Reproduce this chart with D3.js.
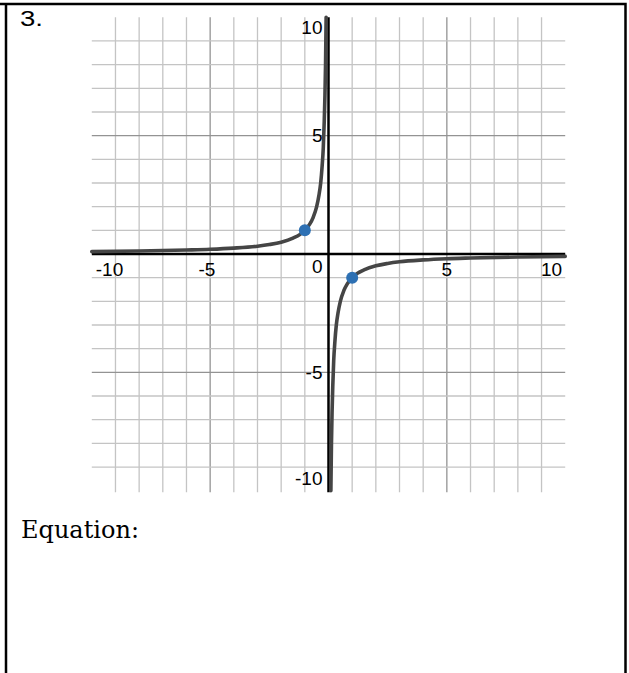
<!DOCTYPE html>
<html>
<head>
<meta charset="utf-8">
<script src="https://cdn.jsdelivr.net/npm/d3@7"></script>
<style>
  body { margin: 0; background: #fff; }
  svg { display: block; }
</style>
</head>
<body>
<div id="chart"></div>
<script>
const width = 629;
const height = 673;

// values
const xTicks = [-10, -5, 5, 10];
const yTicks = [10, 5, -5, -10];
const majorLines = [-5, 5];
// left branch, x < 0
const leftBranch = [
  [-10, 0.1], [-8, 0.125], [-6, 0.17], [-5, 0.2], [-4, 0.25], [-3, 0.33],
  [-2.5, 0.4], [-2, 0.5], [-1.5, 0.67], [-1.2, 0.83], [-1, 1], [-0.8, 1.25],
  [-0.65, 1.54], [-0.5, 2], [-0.4, 2.5], [-0.33, 3], [-0.27, 3.7],
  [-0.22, 4.5], [-0.18, 5.6], [-0.15, 6.7], [-0.125, 8], [-0.1, 10]
];
// right branch, x > 0
const rightBranch = [
  [0.1, -10], [0.125, -8], [0.15, -6.7], [0.18, -5.6], [0.22, -4.5],
  [0.27, -3.7], [0.33, -3], [0.4, -2.5], [0.5, -2], [0.65, -1.54],
  [0.8, -1.25], [1, -1], [1.2, -0.83], [1.5, -0.67], [2, -0.5], [2.5, -0.4],
  [3, -0.33], [4, -0.25], [5, -0.2], [6, -0.17], [8, -0.125], [10, -0.1]
];
const markedPoints = [[-1, 1], [1, -1]];

const gridColor = "#c4c4c4";
const majorColor = "#939393";
const curveColor = "#454545";
const pointColor = "#2d70b3";
const labelFont = "'Liberation Sans', Arial, sans-serif";

const x = d3.scaleLinear().domain([-10, 10]).range([91.8, 565.2]);
const y = d3.scaleLinear().domain([-10, 10]).range([490.7, 17.3]);

const svg = d3
  .select("#chart")
  .append("svg")
  .attr("width", width)
  .attr("height", height);

// page frame (open at the bottom)
svg.append("path")
  .attr("d", `M6,${height} V4 H625.5 V${height} M0,4 H6`)
  .style("fill", "none")
  .style("stroke", "#000")
  .style("stroke-width", 2.5);

svg.append("text")
  .attr("x", 20)
  .attr("y", 26)
  .attr("textLength", 23)
  .attr("lengthAdjust", "spacingAndGlyphs")
  .style("font-family", labelFont)
  .style("font-size", "22.5px")
  .text("3.");

const graph = svg.append("g");

// grid lines
const xGrid = d3.range(-9, 10).filter(d => d !== 0);
const yGrid = d3.range(-9, 10).filter(d => d !== 0);

graph.selectAll(".vgrid")
  .data(xGrid)
  .enter()
  .append("line")
  .attr("class", "vgrid")
  .attr("x1", d => x(d))
  .attr("x2", d => x(d))
  .attr("y1", y(10))
  .attr("y2", y(-10) + 1.5)
  .style("stroke", d => (majorLines.includes(d) ? majorColor : gridColor))
  .style("stroke-width", 1.3);

graph.selectAll(".hgrid")
  .data(yGrid)
  .enter()
  .append("line")
  .attr("class", "hgrid")
  .attr("x1", x(-10))
  .attr("x2", x(10))
  .attr("y1", d => y(d))
  .attr("y2", d => y(d))
  .style("stroke", d => (majorLines.includes(d) ? majorColor : gridColor))
  .style("stroke-width", 1.3);

// axes
graph.append("line")
  .attr("x1", x(-10)).attr("x2", x(10))
  .attr("y1", y(0)).attr("y2", y(0))
  .style("stroke", "#000").style("stroke-width", 2.5);

graph.append("line")
  .attr("x1", x(0)).attr("x2", x(0))
  .attr("y1", y(10)).attr("y2", y(-10) + 1.5)
  .style("stroke", "#000").style("stroke-width", 2.5);

// tick labels
const labelSize = 19;
const digitWidth = labelSize * 0.556;
const gridLeft = x(-10);
const gridRight = x(10);

xTicks.forEach(t => {
  const digits = String(Math.abs(t)).length;
  const txt = graph.append("text")
    .attr("y", y(0) + 22)
    .attr("text-anchor", "end")
    .style("font-family", labelFont)
    .style("font-size", labelSize + "px")
    .text(t < 0 ? "-" + Math.abs(t) : String(t));
  let right = x(t) + (digits * digitWidth) / 2;
  const w = txt.node().getComputedTextLength();
  if (right - w < gridLeft + 4) right = gridLeft + 4 + w;
  if (right > gridRight - 3) right = gridRight - 3;
  txt.attr("x", right);
});

yTicks.forEach(t => {
  let base = y(t) + 6.6;
  if (base - 13.4 < y(10) + 3) base = y(10) + 3 + 13.4;
  if (base > y(-10) - 5.5) base = y(-10) - 5.5;
  graph.append("text")
    .attr("x", x(0) - 6)
    .attr("y", base)
    .attr("text-anchor", "end")
    .style("font-family", labelFont)
    .style("font-size", labelSize + "px")
    .text(t < 0 ? "-" + Math.abs(t) : String(t));
});

graph.append("text")
  .attr("x", x(0) - 6)
  .attr("y", y(0) + 18.5)
  .attr("text-anchor", "end")
  .style("font-family", labelFont)
  .style("font-size", labelSize + "px")
  .text("0");

// curve
const line = d3.line()
  .x(d => x(d[0]))
  .y(d => y(d[1]))
  .curve(d3.curveMonotoneX);

[leftBranch, rightBranch].forEach(branch => {
  graph.append("path")
    .datum(branch)
    .attr("d", line)
    .style("fill", "none")
    .style("stroke", curveColor)
    .style("stroke-width", 3.6)
    .style("stroke-linecap", "round");
});

graph.selectAll(".pt")
  .data(markedPoints)
  .enter()
  .append("circle")
  .attr("class", "pt")
  .attr("cx", d => x(d[0]))
  .attr("cy", d => y(d[1]))
  .attr("r", 6)
  .style("fill", pointColor);

svg.append("text")
  .attr("x", 21)
  .attr("y", 537.5)
  .style("font-family", "'DejaVu Serif', serif")
  .style("font-size", "24px")
  .text("Equation:");
</script>
</body>
</html>
